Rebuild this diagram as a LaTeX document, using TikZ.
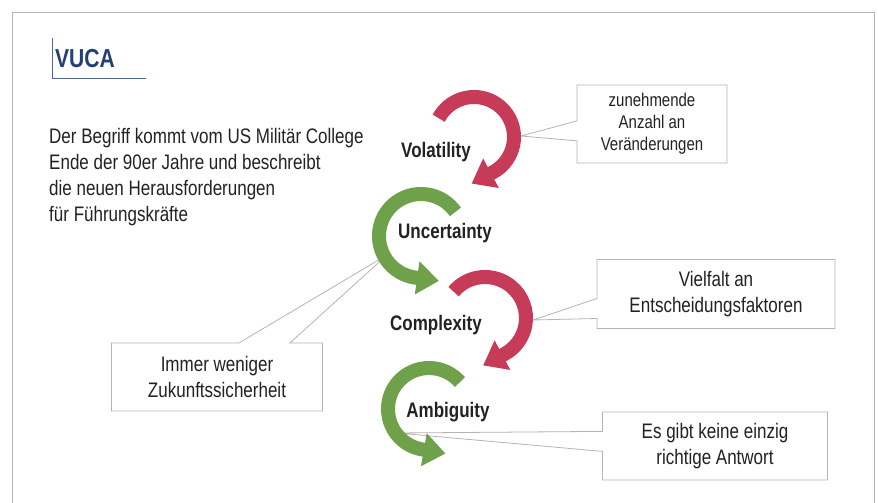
\documentclass[tikz,border=0pt]{standalone}
\usepackage{fontspec}
\setmainfont{Liberation Sans}[FakeStretch=0.81]
\usepackage{tikz}
\usetikzlibrary{arrows.meta,shapes.callouts}
\definecolor{vred}{HTML}{C63B58}
\definecolor{vgreen}{HTML}{6FA04A}
\definecolor{vblue}{HTML}{233F78}
\definecolor{txt}{HTML}{222222}
\definecolor{frame}{HTML}{B4B4B4}
\tikzset{
    body/.style={text=txt, font=\fontsize{21}{26}\selectfont},
    tag/.style={text=txt, font=\bfseries\fontsize{21}{24}\selectfont},
    note/.style={rectangle callout, draw=frame, fill=white, line width=0.8pt, align=center,
                 text=txt, font=\fontsize{21}{26}\selectfont, callout pointer width=20pt},
    turn/.style={line width=14pt, -{Triangle[width=32pt,length=22pt]}},
  }

\begin{document}
\begin{tikzpicture}[x=1pt,y=1pt]
  \useasboundingbox (0,0) rectangle (878,503);
  \draw[frame, line width=0.8pt] (12,0) -- (12,491) -- (874,491) -- (874,0);

  % title and intro
  \node (title) [text=vblue, font=\bfseries\fontsize{26}{28}\selectfont] at (85,444) {VUCA};
  \draw[vblue!80, line width=1pt] (52,465) -- (52,424) -- (146,424);
  \node (intro) [body, anchor=north west, align=left, inner sep=0] at (49,375)
    {Der Begriff kommt vom US Militär College\\Ende der 90er Jahre und beschreibt\\
     die neuen Herausforderungen\\für Führungskräfte};

  % where the notes point to
  \coordinate (vol-pin) at (521,367);
  \coordinate (unc-pin) at (387,248);
  \coordinate (com-pin) at (533,183);
  \coordinate (amb-pin) at (397,70);

  \node (vol-note) [note, minimum width=150pt, minimum height=78pt, font=\fontsize{18.5}{22}\selectfont,
        callout absolute pointer={(vol-pin)}] at (652,379) {zunehmende\\Anzahl an\\Veränderungen};
  \node (com-note) [note, minimum width=238pt, minimum height=69pt,
        callout absolute pointer={(com-pin)}] at (716,209) {Vielfalt an\\Entscheidungsfaktoren};
  \node (amb-note) [note, minimum width=225pt, minimum height=68pt,
        callout absolute pointer={(amb-pin)}] at (715,57) {Es gibt keine einzig\\richtige Antwort};
  \node (unc-note) [note, minimum width=211pt, minimum height=68pt, callout pointer width=51pt,
        callout absolute pointer={(unc-pin)}] at (217,126) {Immer weniger\\Zukunftssicherheit};

  % the four turns
  \coordinate (vol-c) at (474,366);
  \coordinate (unc-c) at (421,267);
  \coordinate (com-c) at (485,185);
  \coordinate (amb-c) at (429,94);
  \draw[turn, vred]   (vol-c) ++(152:40) arc[start angle=152, end angle=-62, radius=40] -- ++(-152:24);
  \draw[turn, vgreen] (unc-c) ++(35:42)  arc[start angle=35, end angle=262, radius=42] -- ++(-8:24);
  \draw[turn, vred]   (com-c) ++(140:41) arc[start angle=140, end angle=-62, radius=41] -- ++(-152:24);
  \draw[turn, vgreen] (amb-c) ++(41:41)  arc[start angle=41, end angle=260, radius=41] -- ++(-10:24);

  \node (vol) [tag] at (436,351) {Volatility};
  \node (unc) [tag] at (445,270) {Uncertainty};
  \node (com) [tag] at (436,178) {Complexity};
  \node (amb) [tag] at (448,91) {Ambiguity};
\end{tikzpicture}
\end{document}
